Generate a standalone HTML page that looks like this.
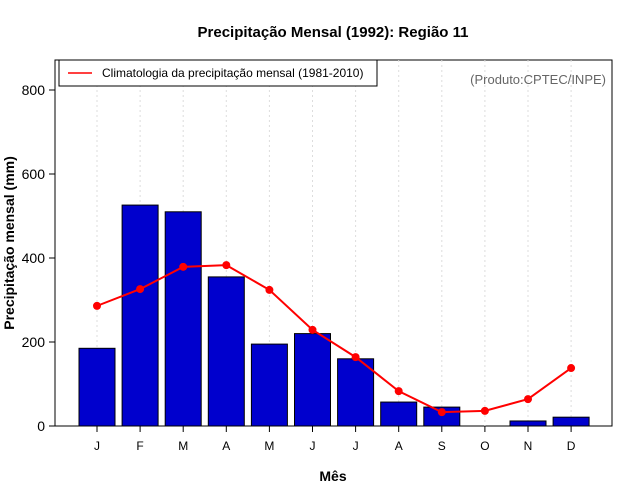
<!DOCTYPE html>
<html><head><meta charset="utf-8"><style>
body{margin:0;background:#fff;}
svg{display:block;font-family:"Liberation Sans",sans-serif;}
</style></head><body>
<svg id="chart" width="640" height="500">
<text x="333" y="37" text-anchor="middle" font-size="15" font-weight="bold">Precipitação Mensal (1992): Região 11</text>
<rect x="55" y="60" width="557" height="366" fill="none" stroke="#000"/>
<g id="grid"></g><g id="bars"></g><g id="line"></g><g id="xaxis"></g><g id="yaxis"></g>
<text x="333" y="481" text-anchor="middle" font-size="14" font-weight="bold">Mês</text>
<text transform="translate(14,243) rotate(-90)" text-anchor="middle" font-size="14" font-weight="bold">Precipitação mensal (mm)</text>
<text x="606" y="84" text-anchor="end" font-size="13" fill="#666">(Produto:CPTEC/INPE)</text>
<g>
<rect x="59" y="60" width="318" height="26" fill="#fff" stroke="#000"/>
<line x1="68" y1="73" x2="92" y2="73" stroke="red" stroke-width="1.5"/>
<text x="102" y="77" font-size="12">Climatologia da precipitação mensal (1981-2010)</text>
</g>
</svg>
<script>
const months=["J","F","M","A","M","J","J","A","S","O","N","D"];
const observed=[185,526,510,355,195,220,160,57,45,0,12,21];
const climatology=[286,326,379,383,324,229,164,83,33,36,64,138];
const yTicks=[0,200,400,600,800];
const NS="http://www.w3.org/2000/svg";
const xS=i=>97+i*43.1;
const yS=v=>426-v*0.42;
function mk(tag,attrs,parent){const e=document.createElementNS(NS,tag);for(const k in attrs)e.setAttribute(k,attrs[k]);document.getElementById(parent).appendChild(e);return e;}
months.forEach((m,i)=>{
 const g=mk('line',{x1:xS(i),x2:xS(i),y1:60,y2:426,stroke:'#ddd','stroke-dasharray':'2,3'},'grid');
 
 
 const b=mk('rect',{x:xS(i)-18,y:yS(observed[i]),width:36,height:426-yS(observed[i]),fill:'#0000cd',stroke:'#000','stroke-width':1},'bars');
 
 
 const t=mk('line',{x1:xS(i),x2:xS(i),y1:426,y2:432,stroke:'#000'},'xaxis');
 
 
 const l=mk('text',{x:xS(i),y:450,'text-anchor':'middle','font-size':12},'xaxis');l.textContent=m;
 
 
});
const pl=mk('polyline',{points:climatology.map((v,i)=>xS(i)+','+yS(v)).join(' '),fill:'none',stroke:'red','stroke-width':2},'line');


climatology.forEach((v,i)=>{const c=mk('circle',{cx:xS(i),cy:yS(v),r:4,fill:'red'},'line');
 
 });
yTicks.forEach(v=>{
 const t=mk('line',{x1:49,x2:55,y1:yS(v),y2:yS(v),stroke:'#000'},'yaxis');
 
 
 const l=mk('text',{x:45,y:yS(v)+5,'text-anchor':'end','font-size':14},'yaxis');l.textContent=v;
 
 
});
</script>
</body></html>
